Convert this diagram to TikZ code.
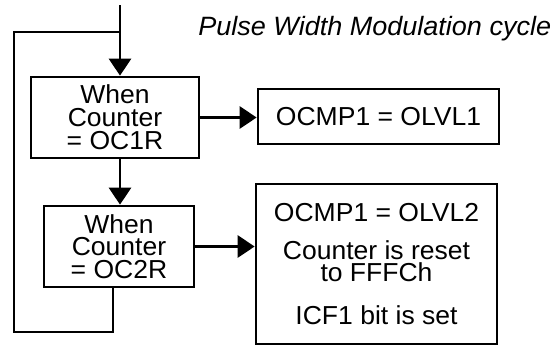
\documentclass[tikz,border=0pt]{standalone}
\usepackage{fontspec}
\setmainfont{Liberation Sans}[FakeStretch=1.02]
\usetikzlibrary{arrows.meta, positioning}

\begin{document}
\begin{tikzpicture}[
    x=1pt, y=-1pt,
    line width=2.7pt,
    cmpbox/.style={rectangle, draw, inner sep=0pt, align=center, font=\fontsize{26}{22.8}\selectfont},
    outbox/.style={rectangle, draw, inner sep=0pt, align=center, font=\fontsize{26}{21.5}\selectfont},
    arrow/.style={-{Triangle[length=17pt, width=22pt]}},
]
    \useasboundingbox (0,0) rectangle (559,346);

    % Title
    \node[anchor=base west, inner sep=0pt, font=\fontsize{26.5}{26}\selectfont\itshape] (title) at (197,35) {Pulse Width Modulation cycle};

    % Compare blocks
    \node[cmpbox, minimum width=168pt, minimum height=81pt] (cmp1) at (115,117.5) {When\\Counter\\= OC1R};
    \node[cmpbox, minimum width=150pt, minimum height=81pt] (cmp2) at (119,246.5) {When\\Counter\\= OC2R};

    % Output blocks
    \node[outbox, minimum width=241pt, minimum height=55pt] (out1) at (378.5,116.5) {OCMP1 = OLVL1};
    \node[outbox, minimum width=241pt, minimum height=160pt] (out2) at (376.5,264) {OCMP1 = OLVL2\\[17pt]Counter is reset\\to FFFCh\\[22pt]ICF1 bit is set};

    % Loop points
    \coordinate (in) at (120,5);
    \coordinate (join) at (120,32);
    \coordinate (loop) at (14,332);

    % Arrows
    \draw (in) -- (join);
    \draw[arrow] (join) -- (join |- cmp1.north);
    \draw[arrow] (join |- cmp1.south) -- (join |- cmp2.north);
    \draw[arrow] (cmp1.east) -- (cmp1.east -| out1.west);
    \draw[arrow] (cmp2.east) -- (cmp2.east -| out2.west);
    \draw ([xshift=-6pt]cmp2.south) |- (loop) |- (join);
\end{tikzpicture}
\end{document}
